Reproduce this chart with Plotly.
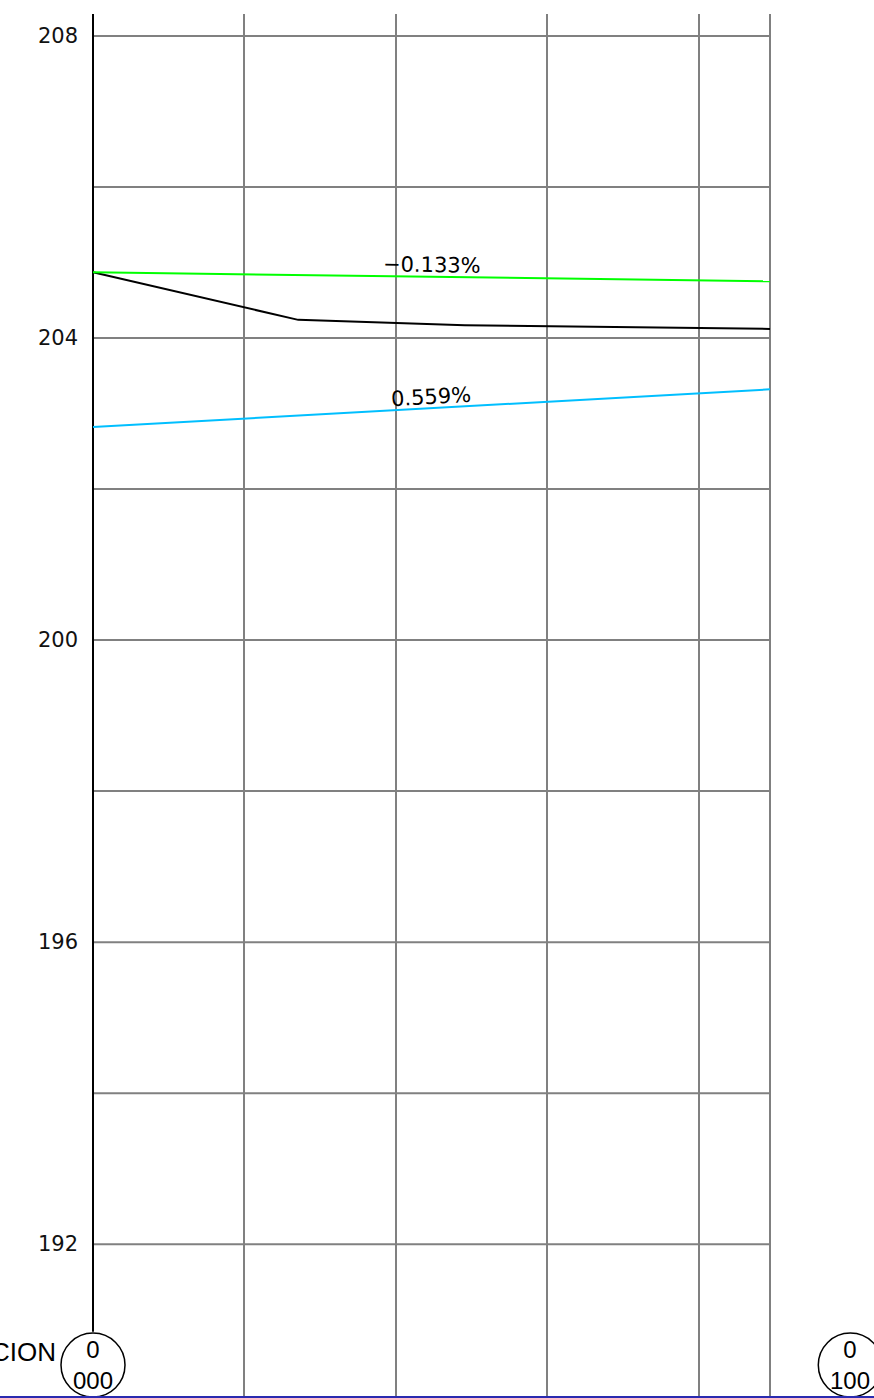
import plotly.graph_objects as go

# ---- data ----
station_grid = [20, 40, 60, 80, 89.4]          # vertical grid stations (m)
profile_start = 0
profile_end = 89.4
elev_major = [192, 196, 200, 204, 208]         # labelled elevations
elev_minor = [194, 198, 202, 206]              # unlabelled grid elevations
y_range = [189.99, 208.29]
x_range = [-12.28, 103.13]

ground_x = [0, 27.1, 49.1, 89.4]
ground_y = [204.87, 204.24, 204.17, 204.12]

grade1_x = [0, 89.4]
grade1_y = [204.87, 204.75]
grade1_label = "\u22120.133%"

grade2_x = [0, 89.4]
grade2_y = [202.82, 203.32]
grade2_label = "0.559%"

station_x = [0, 100]
station_text = ["0<br>000", "0<br>100"]
station_y = 190.40
station_top = 190.84

fig = go.Figure()

# horizontal grid lines (between station 0 and end of profile)
all_elev = sorted(elev_major + elev_minor)
gx, gy = [], []
for e in all_elev:
    gx += [profile_start, profile_end, None]
    gy += [e, e, None]
fig.add_trace(go.Scatter(x=gx, y=gy, mode="lines",
                         line=dict(color="#808080", width=2), hoverinfo="skip"))

# station 0 vertical axis line (black)
fig.add_trace(go.Scatter(x=[profile_start, profile_start], y=[y_range[1], station_top], mode="lines",
                         line=dict(color="black", width=2), hoverinfo="skip", cliponaxis=False))
# ground line
fig.add_trace(go.Scatter(x=ground_x, y=ground_y, mode="lines",
                         line=dict(color="black", width=2), hoverinfo="skip"))
# grade lines
fig.add_trace(go.Scatter(x=grade1_x, y=grade1_y, mode="lines",
                         line=dict(color="#00ff00", width=2), hoverinfo="skip"))
fig.add_trace(go.Scatter(x=grade2_x, y=grade2_y, mode="lines",
                         line=dict(color="#00bfff", width=2), hoverinfo="skip"))
# station circles
fig.add_trace(go.Scatter(x=station_x, y=[station_y] * len(station_x), mode="markers",
                         marker=dict(symbol="circle-open", size=64, color="black",
                                     line=dict(width=1.5, color="black")),
                         cliponaxis=False, hoverinfo="skip"))

for sx, st in zip(station_x, station_text):
    fig.add_annotation(x=sx, y=station_y, text=st, showarrow=False,
                       font=dict(family="Liberation Sans Narrow, Liberation Sans", size=24, color="black"),
                       xanchor="center", yanchor="middle", align="center")

fig.add_annotation(x=-4.6, y=190.57, text="ESTACION", showarrow=False,
                   font=dict(family="Liberation Sans Narrow, Liberation Sans", size=26, color="black"),
                   xanchor="right", yanchor="middle")

# elevation labels
for e in elev_major:
    fig.add_annotation(x=-1.72, y=e, text=str(e), showarrow=False,
                       font=dict(family="DejaVu Sans", size=21, color="#111111"),
                       xanchor="right", yanchor="middle")

# grade labels
fig.add_annotation(x=44.8, y=204.97, text=grade1_label, showarrow=False, textangle=0.85,
                   font=dict(family="DejaVu Sans", size=21, color="black"),
                   xanchor="center", yanchor="middle")
fig.add_annotation(x=44.6, y=203.22, text=grade2_label, showarrow=False, textangle=-3.2,
                   font=dict(family="DejaVu Sans", size=21, color="black"),
                   xanchor="center", yanchor="middle")

# bottom blue line
fig.add_shape(type="line", xref="paper", yref="paper", x0=0, x1=1, y0=-0.0008, y1=-0.0008,
              line=dict(color="#2a2ab0", width=2))

fig.update_layout(
    width=874, height=1398,
    margin=dict(l=0, r=0, t=14, b=2),
    paper_bgcolor="white", plot_bgcolor="white",
    showlegend=False,
    xaxis=dict(range=x_range, tickvals=station_grid, showticklabels=False, ticks="",
               showgrid=True, gridcolor="#808080", gridwidth=2, zeroline=False, showline=False),
    yaxis=dict(range=y_range, showticklabels=False, ticks="", showgrid=False,
               zeroline=False, showline=False),
)

fig.write_html("out.html", config={"displayModeBar": False},
               post_script="document.body.style.margin='0';document.body.style.overflow='hidden';")
